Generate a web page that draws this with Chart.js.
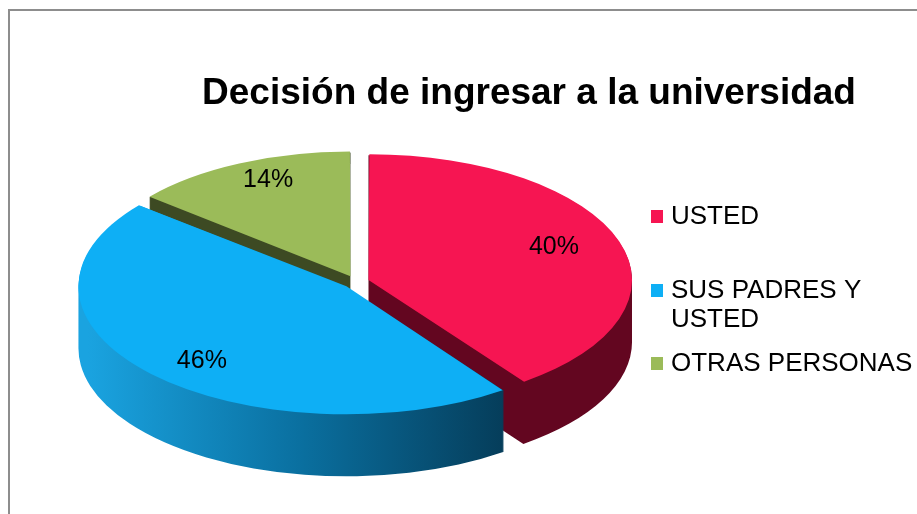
<!DOCTYPE html>
<html>
<head>
<meta charset="utf-8">
<script src="https://cdn.jsdelivr.net/npm/chart.js@4.4.1/dist/chart.umd.min.js"></script>
<style>
html,body{margin:0;padding:0;background:#fff;overflow:hidden}
#wrap{position:relative;width:917px;height:514px;overflow:hidden}
#frame{position:absolute;left:8px;top:9px;width:1000px;height:1000px;border:2px solid #8d8d8d;box-sizing:border-box}
canvas{position:absolute;left:0;top:0}
</style>
</head>
<body>
<div id="wrap"><div id="frame"></div><canvas id="c" width="917" height="514"></canvas></div>
<script>
const titleText = 'Decisión de ingresar a la universidad'
const sliceLabels = ['USTED', 'SUS PADRES Y USTED', 'OTRAS PERSONAS']
const sliceValues = [40, 46, 14]
const topColors = ['#f61552', '#0eaff5', '#9bbb59']
const sideColors = ['#630620', '#0a6f9f', '#3d4a23']

const FONT = "'Liberation Sans', Arial, sans-serif"
const RX = 268, RY = 128, DEPTH = 62   // on-screen radii of the big slice, wall height
const legendX = 651, legendRowY = [216, 290, 363], legendLineH = 29

// same geometry Chart.js uses when it draws an exploded arc
function sliceGeom(a){
  const off = (a.options.offset || 0) / 4
  const mid = (a.startAngle + a.endAngle) / 2
  const fix = 1 - Math.sin(Math.min(Math.PI, a.endAngle - a.startAngle))
  return { x: a.x + Math.cos(mid)*off, y: a.y + Math.sin(mid)*off, r: a.outerRadius + off*fix, mid }
}
function slicePath(ctx, a){
  const g = sliceGeom(a)
  ctx.moveTo(g.x, g.y)
  ctx.arc(g.x, g.y, g.r, a.startAngle, a.endAngle)
  ctx.closePath()
}
function tilt(chart){
  const arcs = chart.getDatasetMeta(0).data
  const rb = sliceGeom(arcs[1]).r
  return { cx: arcs[0].x, cy: arcs[0].y, sx: RX/rb, sy: RY/rb }
}
function applyTilt(ctx, t){
  ctx.translate(t.cx, t.cy); ctx.scale(t.sx, t.sy); ctx.translate(-t.cx, -t.cy)
}

const pie3d = {
  id: 'pie3d',
  beforeDatasetsDraw(chart){
    const ctx = chart.ctx
    const arcs = chart.getDatasetMeta(0).data
    const t = tilt(chart)
    // walls, back to front
    for(const i of [2, 0, 1]){
      ctx.save()
      ctx.beginPath()
      for(let k = DEPTH; k >= 1; k--){
        ctx.save(); ctx.translate(0, k); applyTilt(ctx, t); slicePath(ctx, arcs[i]); ctx.restore()
      }
      if(i === 1){
        const gr = ctx.createLinearGradient(t.cx - RX, 0, t.cx + RX*0.6, 0)
        gr.addColorStop(0, '#1aa3e0')
        gr.addColorStop(0.5, '#0a6f9f')
        gr.addColorStop(1, '#053a56')
        ctx.fillStyle = gr
      } else ctx.fillStyle = sideColors[i]
      ctx.fill()
      ctx.restore()
    }
    ctx.save()
    applyTilt(ctx, t)
  },
  afterDatasetsDraw(chart){
    const ctx = chart.ctx
    ctx.restore()
    const t = tilt(chart)
    const arcs = chart.getDatasetMeta(0).data
    ctx.save()
    ctx.fillStyle = '#000'
    ctx.font = '25px ' + FONT
    ctx.textAlign = 'center'
    ctx.textBaseline = 'middle'
    arcs.forEach((a, i) => {
      const g = sliceGeom(a)
      const px = g.x + Math.cos(g.mid)*g.r*0.74
      const py = g.y + Math.sin(g.mid)*g.r*0.85
      ctx.fillText(sliceValues[i] + '%', t.cx + (px - t.cx)*t.sx, t.cy + (py - t.cy)*t.sy)
    })
    ctx.restore()
  },
  afterDraw(chart){
    const ctx = chart.ctx
    ctx.save()
    ctx.fillStyle = '#000'
    ctx.font = 'bold 37px ' + FONT
    ctx.textAlign = 'center'
    ctx.textBaseline = 'alphabetic'
    ctx.fillText(titleText, 529, 104)

    ctx.font = '26px ' + FONT
    ctx.textAlign = 'left'
    ctx.textBaseline = 'middle'
    const maxW = 917 - (legendX + 20)
    sliceLabels.forEach((lab, i) => {
      const lines = []
      let cur = ''
      for(const w of lab.split(' ')){
        const test = cur ? cur + ' ' + w : w
        if(cur && ctx.measureText(test).width > maxW){ lines.push(cur); cur = w } else cur = test
      }
      lines.push(cur)
      ctx.fillStyle = topColors[i]
      ctx.fillRect(legendX, legendRowY[i] - 6, 12, 13)
      ctx.fillStyle = '#000'
      lines.forEach((ln, j) => ctx.fillText(ln, legendX + 20, legendRowY[i] + j*legendLineH + 1))
    })
    ctx.restore()
  }
}

new Chart(document.getElementById('c'), {
  type: 'pie',
  data: {
    labels: sliceLabels,
    datasets: [{
      data: sliceValues,
      backgroundColor: topColors,
      borderWidth: 0,
      offset: 24,
      clip: false
    }]
  },
  options: {
    responsive: false,
    animation: false,
    events: [],
    devicePixelRatio: 1,
    layout: { padding: { left: 0, right: 205, top: 152, bottom: 102 } },
    plugins: { legend: { display: false }, title: { display: false }, tooltip: { enabled: false } }
  },
  plugins: [pie3d]
})
</script>
</body>
</html>
